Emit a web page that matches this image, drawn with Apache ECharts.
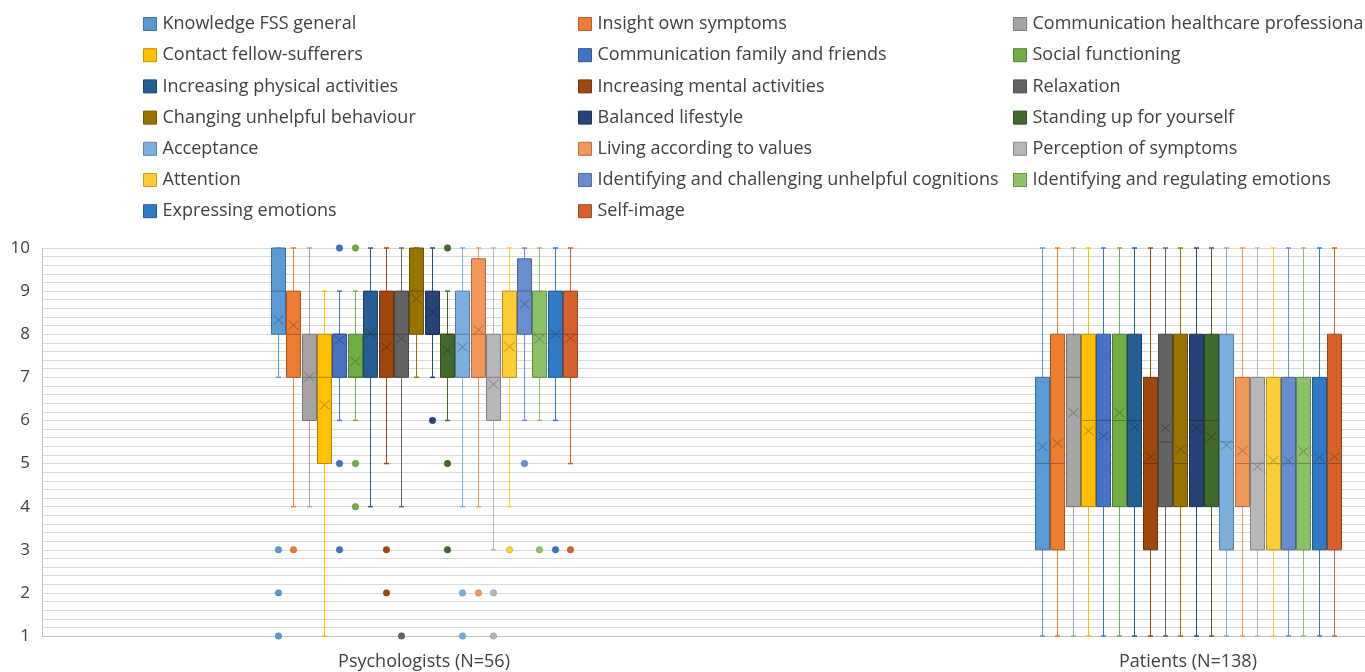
<!DOCTYPE html>
<html>
<head>
<meta charset="utf-8">
<script src="https://cdn.jsdelivr.net/npm/echarts@6/dist/echarts.min.js"></script>
<style>
html,body{margin:0;padding:0;background:#ffffff;}
#chart{width:1365px;height:672px;}
</style>
</head>
<body>
<div id="chart"></div>
<script>
// ---------- DATA ----------
const categories = ['', 'Psychologists (N=56)', '', 'Patients (N=138)', ''];
const groupIndex = [1, 3];
const seriesNames = [
  'Knowledge FSS general', 'Insight own symptoms', 'Communication healthcare professionals',
  'Contact fellow-sufferers', 'Communication family and friends', 'Social functioning',
  'Increasing physical activities', 'Increasing mental activities', 'Relaxation',
  'Changing unhelpful behaviour', 'Balanced lifestyle', 'Standing up for yourself',
  'Acceptance', 'Living according to values', 'Perception of symptoms',
  'Attention', 'Identifying and challenging unhelpful cognitions', 'Identifying and regulating emotions',
  'Expressing emotions', 'Self-image'
];
const yTicks = [1, 2, 3, 4, 5, 6, 7, 8, 9, 10];

// Psychologists (N=56)
const psychMin    = [7, 4, 4, 1, 6, 6, 4, 5, 4, 7, 7, 6, 4, 4, 3, 4, 6, 6, 6, 5];
const psychQ1     = [8, 7, 6, 5, 7, 7, 7, 7, 7, 8, 8, 7, 7, 7, 6, 7, 8, 7, 7, 7];
const psychMedian = [9, 8, 7, 7, 8, 7, 8, 8, 8, 9, 8, 8, 8, 8, 7, 8, 9, 8, 8, 8];
const psychQ3     = [10, 9, 8, 8, 8, 8, 9, 9, 9, 10, 9, 8, 9, 9.75, 8, 9, 9.75, 9, 9, 9];
const psychMax    = [10, 10, 10, 9, 9, 9, 10, 10, 10, 10, 10, 9, 10, 10, 10, 10, 10, 10, 10, 10];
const psychMean   = [8.33, 8.21, 7.01, 6.36, 7.87, 7.37, 8.02, 7.70, 7.90, 8.82, 8.51, 7.63, 7.70, 8.10, 6.84, 7.71, 8.70, 7.89, 8.00, 7.91];
const psychOutliers = [
  [3, 2, 1], [3], [], [], [10, 5, 3], [10, 5, 4], [], [3, 2], [1], [],
  [6], [10, 5, 3], [2, 1], [2], [2, 1], [3], [5], [3], [3], [3]
];

// Patients (N=138)
const patientMin    = [1, 1, 1, 1, 1, 1, 1, 1, 1, 1, 1, 1, 1, 1, 1, 1, 1, 1, 1, 1];
const patientQ1     = [3, 3, 4, 4, 4, 4, 4, 3, 4, 4, 4, 4, 3, 4, 3, 3, 3, 3, 3, 3];
const patientMedian = [5, 5, 7, 6, 6, 6, 6, 5, 5.5, 5, 6, 6, 5.5, 5, 5, 5, 5, 5, 5, 5];
const patientQ3     = [7, 8, 8, 8, 8, 8, 8, 7, 8, 8, 8, 8, 8, 7, 7, 7, 7, 7, 7, 8];
const patientMax    = [10, 10, 10, 10, 10, 10, 10, 10, 10, 10, 10, 10, 10, 10, 10, 10, 10, 10, 10, 10];
const patientMean   = [5.39, 5.47, 6.18, 5.76, 5.64, 6.18, 5.84, 5.16, 5.82, 5.33, 5.82, 5.62, 5.43, 5.30, 4.93, 5.07, 5.07, 5.28, 5.14, 5.16];
const patientOutliers = [[], [], [], [], [], [], [], [], [], [], [], [], [], [], [], [], [], [], [], []];

// ---------- STYLE ----------
const colors = [
  '#5B9BD5', '#ED7D31', '#A5A5A5', '#FFC000', '#4472C4', '#70AD47',
  '#255E91', '#9E480E', '#636363', '#997300', '#264478', '#43682B',
  '#7CAFDD', '#F1975A', '#B7B7B7', '#FFCD33', '#698ED0', '#8CC168',
  '#2F7BC6', '#D5622A'
];
const FONT = 'Open Sans';
const TEXT = '#404040';
const N = seriesNames.length;
const STEP_F = 0.04023;   // box spacing as share of band width
const BOX_F = 0.0366;     // box width as share of band width

function shade(hex, f) {
  const n = parseInt(hex.slice(1), 16);
  const m = c => Math.round(c * (1 - f));
  return 'rgb(' + m((n >> 16) & 255) + ',' + m((n >> 8) & 255) + ',' + m(n & 255) + ')';
}

function centerX(api, xi, i) {
  const bw = api.size([1, 0])[0];
  return Math.round(api.coord([xi, 1])[0] + (i - (N - 1) / 2) * bw * STEP_F) + 0.5;
}

function boxRender(i) {
  const fill = colors[i];
  const dark = shade(colors[i], 0.3);
  return function (params, api) {
    const xi = api.value(0);
    const bw = api.size([1, 0])[0];
    const half = bw * BOX_F / 2;
    const cx = centerX(api, xi, i);
    const Y = d => api.coord([xi, api.value(d)])[1];
    const yMin = Y(1), yQ1 = Y(2), yMed = Y(3), yQ3 = Y(4), yMax = Y(5), yMean = Y(6);
    const cap = 2.5, mx = 5, my = 4.5;
    return {
      type: 'group',
      children: [
        { type: 'line', shape: { x1: cx, y1: yMax, x2: cx, y2: yQ3 }, style: { stroke: fill, lineWidth: 1 } },
        { type: 'line', shape: { x1: cx, y1: yQ1, x2: cx, y2: yMin }, style: { stroke: fill, lineWidth: 1 } },
        { type: 'line', shape: { x1: cx - cap, y1: yMax, x2: cx + cap, y2: yMax }, style: { stroke: fill, lineWidth: 1.5 } },
        { type: 'line', shape: { x1: cx - cap, y1: yMin, x2: cx + cap, y2: yMin }, style: { stroke: fill, lineWidth: 1.5 } },
        { type: 'rect', shape: { x: cx - half, y: yQ3, width: half * 2, height: yQ1 - yQ3 }, style: { fill: fill, stroke: dark, lineWidth: 1 } },
        { type: 'line', shape: { x1: cx - half, y1: yMed, x2: cx + half, y2: yMed }, style: { stroke: dark, lineWidth: 1 } },
        { type: 'line', shape: { x1: cx - mx, y1: yMean - my, x2: cx + mx, y2: yMean + my }, style: { stroke: dark, lineWidth: 1 } },
        { type: 'line', shape: { x1: cx - mx, y1: yMean + my, x2: cx + mx, y2: yMean - my }, style: { stroke: dark, lineWidth: 1 } }
      ]
    };
  };
}

function outlierRender(i) {
  const fill = colors[i];
  const dark = shade(colors[i], 0.2);
  return function (params, api) {
    const xi = api.value(0);
    const cx = centerX(api, xi, i);
    const cy = api.coord([xi, api.value(1)])[1];
    return { type: 'circle', shape: { cx: cx, cy: cy, r: 3.2 }, style: { fill: fill, stroke: dark, lineWidth: 0.6 } };
  };
}

const series = [];
seriesNames.forEach(function (name, i) {
  series.push({
    type: 'custom',
    name: name,
    renderItem: boxRender(i),
    encode: { x: 0, y: [1, 2, 3, 4, 5, 6] },
    itemStyle: { color: colors[i] },
    data: [
      [groupIndex[0], psychMin[i], psychQ1[i], psychMedian[i], psychQ3[i], psychMax[i], psychMean[i]],
      [groupIndex[1], patientMin[i], patientQ1[i], patientMedian[i], patientQ3[i], patientMax[i], patientMean[i]]
    ],
    z: 2
  });
  const pts = psychOutliers[i].map(v => [groupIndex[0], v]).concat(patientOutliers[i].map(v => [groupIndex[1], v]));
  series.push({
    type: 'custom',
    name: name,
    renderItem: outlierRender(i),
    encode: { x: 0, y: 1 },
    itemStyle: { color: colors[i] },
    data: pts,
    z: 3
  });
});

function legendCol(col, left) {
  const items = [];
  for (let i = col; i < N; i += 3) {
    items.push({
      name: seriesNames[i],
      itemStyle: { color: colors[i], borderColor: shade(colors[i], 0.25), borderWidth: 1 }
    });
  }
  return {
    orient: 'vertical',
    left: left,
    top: 14,
    padding: 0,
    itemWidth: 13,
    itemHeight: 13,
    itemGap: 11.2,
    icon: 'rect',
    selectedMode: false,
    textStyle: { fontFamily: FONT, fontSize: 18, color: TEXT, lineHeight: 20, padding: [0, 0, 0, 1] },
    data: items
  };
}

const chart = echarts.init(document.getElementById('chart'), null, { renderer: 'canvas' });
chart.setOption({
  animation: false,
  backgroundColor: '#ffffff',
  legend: [legendCol(0, 143), legendCol(1, 578), legendCol(2, 1013)],
  grid: { left: 42, right: -205, top: 248, bottom: 36, containLabel: false, outerBoundsMode: 'none' },
  xAxis: {
    type: 'category',
    data: categories,
    boundaryGap: false,
    axisLine: { show: true, lineStyle: { color: '#bfbfbf', width: 1 } },
    axisTick: { show: false },
    axisLabel: { interval: 0, margin: 17, fontFamily: FONT, fontSize: 18, color: TEXT },
    splitLine: { show: false }
  },
  yAxis: {
    type: 'value',
    min: yTicks[0],
    max: yTicks[yTicks.length - 1],
    interval: 1,
    axisLine: { show: true, lineStyle: { color: '#bfbfbf', width: 1 } },
    axisTick: { show: false },
    axisLabel: { margin: 12, fontFamily: FONT, fontSize: 17, color: TEXT },
    splitLine: { show: true, lineStyle: { color: '#d9d9d9', width: 1 } },
    minorTick: { show: false, splitNumber: 5 },
    minorSplitLine: { show: true, lineStyle: { color: '#d9d9d9', width: 1 } }
  },
  series: series
});
</script>
</body>
</html>
